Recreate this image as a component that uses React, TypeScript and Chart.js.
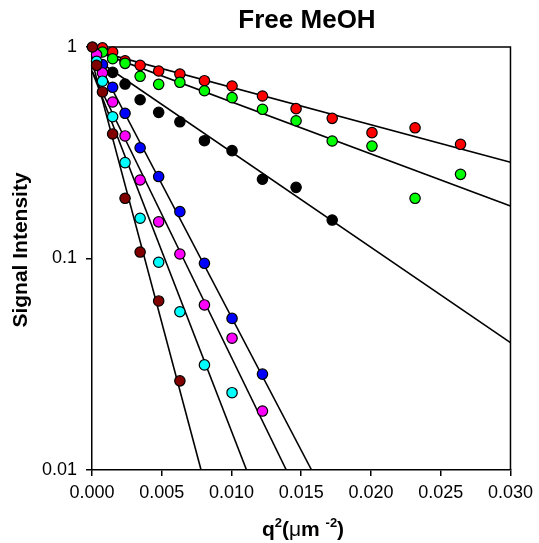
import React, { useEffect, useRef } from 'react';
import { Chart, registerables } from 'chart.js';

Chart.register(...registerables);

// q^2 values (µm^-2) of the measurement steps
const q2 = [0.00003, 0.00033, 0.00075, 0.00148, 0.00237, 0.00345, 0.00478, 0.0063, 0.00806, 0.01004, 0.01222, 0.01463, 0.01722, 0.02007, 0.02316, 0.02642];

// signal intensities per series (null = no point)
const redSignal = [null, null, 0.99, 0.947, 0.861, 0.819, 0.77, 0.745, 0.693, 0.654, 0.5865, 0.511, 0.46, 0.3936, 0.415, 0.3467];
const greenSignal = [null, null, 0.947, 0.88, 0.837, 0.727, 0.666, 0.681, 0.621, 0.576, 0.5075, 0.448, 0.3594, 0.34, 0.1926, 0.25];
const blackSignal = [null, null, null, 0.759, 0.668, 0.563, 0.491, 0.443, 0.3605, 0.3235, 0.237, 0.217, 0.152];
const blueSignal = [null, null, 0.825, 0.645, 0.486, 0.334, 0.244, 0.1665, 0.0949, 0.0521, 0.0284];
const magentaSignal = [null, 0.92, 0.754, 0.5495, 0.3796, 0.235, 0.149, 0.105, 0.0603, 0.042, 0.019];
const cyanSignal = [null, 0.856, 0.689, 0.468, 0.284, 0.155, 0.096, 0.056, 0.0314, 0.0232];
const darkRedSignal = [1.0, 0.819, 0.613, 0.388, 0.1926, 0.1073, 0.063, 0.0264];

// fitted lines: [x, y] end points
const redFit = [[0, 0.97], [0.03, 0.285]];
const greenFit = [[0, 0.97], [0.03, 0.177]];
const blackFit = [[0, 0.9], [0.03, 0.04]];
const blueFit = [[0, 0.96], [0.01574, 0.01]];
const magentaFit = [[0, 0.77], [0.01393, 0.01]];
const cyanFit = [[0, 0.77], [0.01108, 0.01]];
const darkRedFit = [[0, 0.86], [0.00782, 0.01]];

const xTicks = [0, 0.005, 0.01, 0.015, 0.02, 0.025, 0.03];
const yTicks = [0.01, 0.1, 1];
const yTickLabels = ['0.01', '0.1', '1'];

const FONT = '"Liberation Sans", Arial, sans-serif';

function toPoints(xs: number[], ys: (number | null)[]) {
  const out: { x: number; y: number }[] = [];
  ys.forEach((y, i) => {
    if (y != null) out.push({ x: xs[i], y });
  });
  return out;
}

function fitPoints(f: number[][]) {
  return f.map(([x, y]) => ({ x, y }));
}

const decorPlugin = {
  id: 'decor',
  beforeDatasetsDraw(chart: any) {
    const { ctx, chartArea: a } = chart;
    ctx.save();
    ctx.strokeStyle = '#000';
    ctx.lineWidth = 1.5;
    ctx.beginPath();
    ctx.moveTo(a.left, a.top);
    ctx.lineTo(a.right, a.top);
    ctx.lineTo(a.right, a.bottom);
    ctx.stroke();
    ctx.restore();
  },
  afterDraw(chart: any) {
    const { ctx } = chart;
    ctx.save();
    ctx.fillStyle = '#000';
    // main title
    ctx.font = `bold 26px ${FONT}`;
    ctx.textAlign = 'center';
    ctx.textBaseline = 'alphabetic';
    ctx.fillText('Free MeOH', 307, 28);

    // y title
    ctx.save();
    ctx.translate(27, 250);
    ctx.rotate(-Math.PI / 2);
    ctx.font = `bold 21px ${FONT}`;
    ctx.textAlign = 'center';
    ctx.fillText('Signal Intensity', 0, 0);
    ctx.restore();

    // x title q²(µm ⁻²)
    const base = `bold 21px ${FONT}`;
    const sup = `bold 13px ${FONT}`;
    const parts: [string, string, number][] = [
      ['q', base, 0],
      ['2', sup, -9],
      ['(', base, 0],
      ['\u03bc', `21px ${FONT}`, 0],
      ['m', base, 0],
      [' ', base, 0],
      ['-2', sup, -9],
      [')', base, 0],
    ];
    let total = 0;
    parts.forEach(([t, f]) => {
      ctx.font = f;
      total += ctx.measureText(t).width;
    });
    let x = 303 - total / 2;
    const baseline = 536;
    ctx.textAlign = 'left';
    parts.forEach(([t, f, dy]) => {
      ctx.font = f;
      ctx.fillText(t, x, baseline + dy);
      x += ctx.measureText(t).width;
    });
    ctx.restore();
  },
};

function scatterSet(data: any[], color: string) {
  return {
    type: 'scatter',
    data,
    backgroundColor: color,
    borderColor: '#000',
    borderWidth: 1.2,
    pointRadius: 5.2,
    pointHoverRadius: 5.2,
    showLine: false,
    clip: false,
  };
}

function lineSet(data: any[]) {
  return {
    type: 'line',
    data,
    borderColor: '#000',
    borderWidth: 1.6,
    pointRadius: 0,
    showLine: true,
    fill: false,
    tension: 0,
  };
}

export default function App() {
  const ref = useRef<HTMLCanvasElement | null>(null);
  useEffect(() => {
    if (!ref.current) return;
    const chart = new Chart(ref.current, {
      type: 'scatter',
      data: {
        datasets: [
          scatterSet(toPoints(q2, darkRedSignal), '#800000'),
          scatterSet(toPoints(q2, cyanSignal), '#00FFFF'),
          scatterSet(toPoints(q2, magentaSignal), '#FF00FF'),
          scatterSet(toPoints(q2, blueSignal), '#0000FF'),
          scatterSet(toPoints(q2, blackSignal), '#000000'),
          scatterSet(toPoints(q2, greenSignal), '#00FF00'),
          scatterSet(toPoints(q2, redSignal), '#FF0000'),
          lineSet(fitPoints(redFit)),
          lineSet(fitPoints(greenFit)),
          lineSet(fitPoints(blackFit)),
          lineSet(fitPoints(blueFit)),
          lineSet(fitPoints(magentaFit)),
          lineSet(fitPoints(cyanFit)),
          lineSet(fitPoints(darkRedFit)),
        ] as any,
      },
      options: {
        animation: false,
        responsive: true,
        maintainAspectRatio: false,
        devicePixelRatio: 1,
        layout: { padding: { left: 0, right: 26.5, top: 47, bottom: 0 } },
        plugins: {
          legend: { display: false },
          tooltip: { enabled: false },
          title: { display: false },
        },
        scales: {
          x: {
            type: 'linear',
            min: 0,
            max: 0.03,
            afterFit: (s: any) => {
              s.height = 73;
            },
            afterBuildTicks: (s: any) => {
              s.ticks = xTicks.map((v) => ({ value: v }));
            },
            ticks: {
              color: '#000',
              font: { family: FONT, size: 18 },
              padding: 6,
              maxRotation: 0,
              autoSkip: false,
              callback: (v: any) => Number(v).toFixed(3),
            },
            grid: {
              display: true,
              drawOnChartArea: false,
              drawTicks: true,
              tickLength: 6,
              color: '#000',
              lineWidth: 1.5,
            },
            border: { display: true, color: '#000', width: 1.5 },
          },
          y: {
            type: 'logarithmic',
            min: 0.01,
            max: 1,
            afterFit: (s: any) => {
              s.width = 92;
            },
            afterBuildTicks: (s: any) => {
              s.ticks = yTicks.map((v) => ({ value: v }));
            },
            ticks: {
              color: '#000',
              font: { family: FONT, size: 18 },
              padding: 9,
              autoSkip: false,
              callback: (v: any) => {
                const i = yTicks.findIndex((t) => Math.abs(t - Number(v)) < 1e-9);
                return i >= 0 ? yTickLabels[i] : '';
              },
            },
            grid: {
              display: true,
              drawOnChartArea: false,
              drawTicks: true,
              tickLength: 6,
              color: '#000',
              lineWidth: 1.5,
            },
            border: { display: true, color: '#000', width: 1.5 },
          },
        },
      } as any,
      plugins: [decorPlugin],
    });
    return () => chart.destroy();
  }, []);
  return (
    <div style={{ position: 'fixed', left: 0, top: 0, width: 539, height: 543, background: '#fff' }}>
      <canvas ref={ref} />
    </div>
  );
}
